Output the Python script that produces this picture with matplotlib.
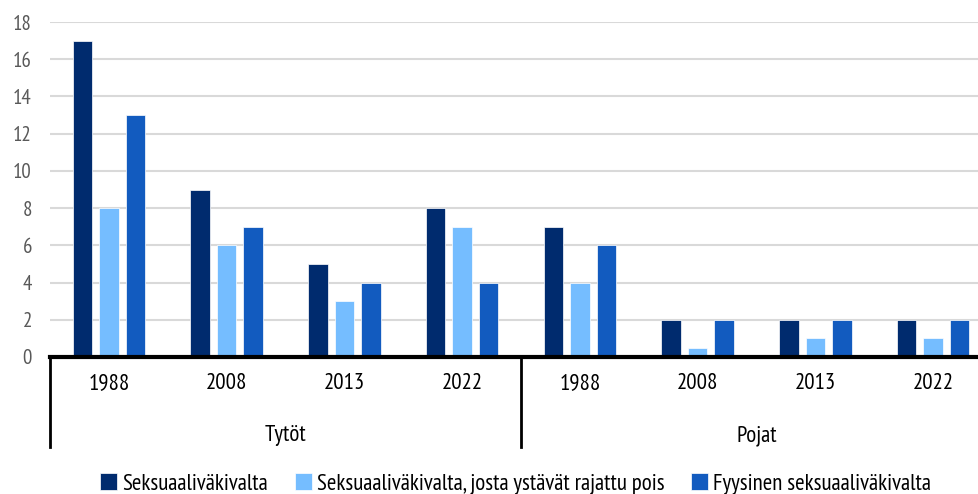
import matplotlib
matplotlib.use("Agg")
import matplotlib.pyplot as plt
import numpy as np

plt.rcParams["font.family"] = ["PT Sans Narrow", "DejaVu Sans"]

groups = ["Tytöt", "Pojat"]
years = ["1988", "2008", "2013", "2022"]
series_names = [
    "Seksuaaliväkivalta",
    "Seksuaaliväkivalta, josta ystävät rajattu pois",
    "Fyysinen seksuaaliväkivalta",
]
# values in order: Tytöt 1988..2022, Pojat 1988..2022
seksuaali = [17, 9, 5, 8, 7, 2, 2, 2]
ilman_ystavia = [8, 6, 3, 7, 4, 0.5, 1, 1]
fyysinen = [13, 7, 4, 4, 6, 2, 2, 2]

COLORS = ["#002b6e", "#75bdff", "#125bbf"]

fig = plt.figure(figsize=(9.79, 4.94), dpi=100)
ax = fig.add_axes([50 / 979, 137 / 494, 942 / 979, 335 / 494])

x = np.arange(len(groups) * len(years))
width = 0.165
offset = 0.225
for i, (vals, name) in enumerate(zip([seksuaali, ilman_ystavia, fyysinen], series_names)):
    ax.bar(x + (i - 1) * offset, vals, width, color=COLORS[i], label=name,
           edgecolor="white", linewidth=0.5, zorder=3)

ax.set_xlim(-0.5, len(x) - 0.5)
ax.set_ylim(0, 18)
ax.set_yticks(range(0, 19, 2))
ax.tick_params(axis="y", length=0, labelsize=15, labelcolor="#595959", pad=13)
ax.grid(axis="y", color="#d9d9d9", linewidth=1.5, zorder=0)
ax.set_xticks([])
for s in ["top", "right", "left"]:
    ax.spines[s].set_visible(False)
ax.spines["bottom"].set_linewidth(3)
ax.spines["bottom"].set_color("black")
ax.spines["bottom"].set_zorder(4)

trans = ax.get_xaxis_transform()
# year labels
for xi in x:
    ax.text(xi, -0.08, years[xi % len(years)], transform=trans,
            ha="center", va="center", fontsize=16.5, color="black")
# group labels
for gi, g in enumerate(groups):
    center = gi * len(years) + (len(years) - 1) / 2
    ax.text(center, -0.235, g, transform=trans,
            ha="center", va="center", fontsize=16.5, color="black")
# group dividers
for gx in [-0.5, 3.5]:
    ax.plot([gx, gx], [0, -0.27], transform=trans, color="black",
            linewidth=2, clip_on=False)

fig.legend(loc="center", bbox_to_anchor=(0.5266, 0.02), ncol=3, frameon=False,
           fontsize=16.5, handlelength=0.74, handleheight=0.74, handletextpad=0.22,
           columnspacing=1.16, borderaxespad=0)

fig.savefig("out.png", dpi=100)
plt.close(fig)
